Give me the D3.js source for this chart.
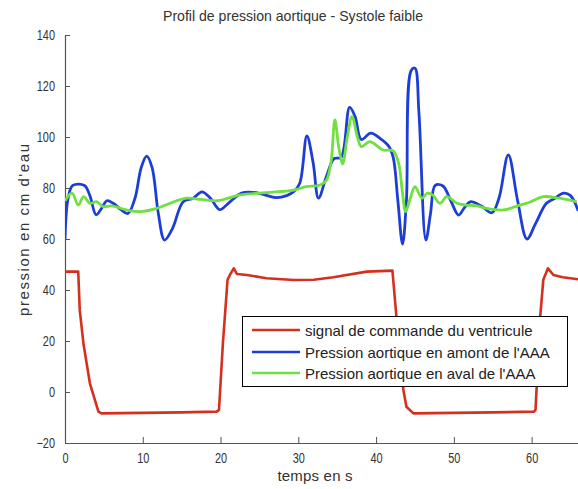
<!DOCTYPE html>
<html><head><meta charset="utf-8">
<script src="https://cdn.jsdelivr.net/npm/d3@7/dist/d3.min.js"></script>
<style>
html,body{margin:0;padding:0;background:#fff;}
svg{display:block;font-family:"Liberation Sans",Arial,sans-serif;}
</style></head>
<body><svg id="c" width="578" height="489"></svg>
<script>
const title = "Profil de pression aortique - Systole faible";
const xLabel = "temps en s";
const yLabel = "pression en cm d'eau";
const xTicks = [0,10,20,30,40,50,60];
const yTicks = [-20,0,20,40,60,80,100,120,140];
const seriesNames = ["signal de commande du ventricule","Pression aortique en amont de l'AAA","Pression aortique en aval de l'AAA"];

const redT = [0,1.7,1.9,2.4,3.2,4.3,4.7,10,15,19.5,19.8,20.3,20.9,21.2,21.7,22.1,23.4,25.9,29.4,32,34.5,38.8,42.1,42.6,43.5,43.9,44.8,50,55,60.3,60.5,61.1,61.5,62.1,62.8,64,66];
const redV = [47.2,47.2,32,18.4,3.4,-7.7,-8.4,-8.2,-8,-7.7,-7,19,44,45.9,48.5,46.3,45.9,44.6,43.9,44,45,47.2,47.6,30,1,-5.8,-8.4,-8.2,-8,-7.7,-7,29.5,44,48.5,45.9,45,44.2];

const blueT = [0,0.4,1.0,2.5,3.2,4.0,4.7,5.4,6.2,7.2,8.1,9.0,9.8,10.5,11.2,12.0,12.8,13.8,15.2,16.5,17.6,18.7,19.9,21.0,22.7,24.6,26.0,27.2,28.5,29.4,30.2,31.1,31.9,32.6,33.6,34.6,35.5,36.6,37.3,38.1,39.3,40.5,41.6,42.2,42.8,43.4,43.9,44.5,45.0,45.5,46.4,47.0,47.6,48.6,49.6,50.6,51.3,52.1,53.5,54.9,55.8,57.0,58.2,59.4,60.5,61.9,63.0,64.1,65.0,66.0];
const blueV = [60,76,81,81,77,69.5,72,75,74,71.5,70,76,88,92.5,88,70,59.6,64,74.6,76,78.5,76,71.5,74,78,78.2,77,76.2,77,78.5,82,100.4,90,76,84.4,91.5,92,111.6,108,99,101.5,99.5,96.5,92,75,58,75,126,127,110,59.6,70,81,80.8,75,69.4,72,74.6,73,70.3,76,93,75,60,66,74,76,78,77,71];

const greenT = [0,0.9,1.7,2.4,3.2,4.1,4.9,6.0,7.9,9.6,11.8,13.5,15.6,17.5,19.5,21.0,22.5,25.9,29.4,31.0,32.8,33.6,34.2,34.7,35.2,35.7,36.3,36.9,37.6,38.1,39.2,40.9,42.2,42.9,43.4,43.8,44.4,45.0,45.9,46.6,47.3,48.2,49.1,50.4,51.6,53.0,54.2,56.4,58.1,59.8,61.5,63.5,65.8];
const greenV = [75,78,73.3,76.6,74,74.6,72.7,73,71.4,70.7,72,74,76,75.5,75,76,77.3,78.2,79.2,80.5,81.2,83,90,106.7,96,89.5,100,108,100,96.2,98.2,94.9,94.6,89.7,78,70.7,76,80.5,76,78,77.2,74,76.6,74,73.3,73,72,71.4,72.9,74.5,76.6,76,74.6];

const colors = ["#d4301f","#1c3ed6","#6fe040"];

const svg = d3.select("#c");
const x = d3.scaleLinear().domain([0,66]).range([65,578.3]);
const y = d3.scaleLinear().domain([-20,140]).range([443,35]);

function squeeze(sel, w, mode){
  sel.attr("textLength", w).attr("lengthAdjust", mode||"spacingAndGlyphs");
}

// axes
const axisCol = "#555";
const gx = svg.append("g").attr("transform","translate(0,443)")
  .call(d3.axisBottom(x).tickValues(xTicks).tickSize(-6).tickPadding(10).tickFormat(d3.format("d")));
const gy = svg.append("g").attr("transform","translate(65,0)")
  .call(d3.axisLeft(y).tickValues(yTicks).tickSize(-5).tickPadding(10).tickFormat(d3.format("d")));
[gx,gy].forEach(g=>{
  g.select(".domain").attr("stroke",axisCol).attr("stroke-width",1.2);
  g.selectAll(".tick line").attr("stroke",axisCol);
  g.selectAll(".tick text").attr("fill","#333").attr("font-size",14)
   .attr("font-family","'Liberation Sans',Arial,sans-serif");
});
gx.select(".domain").attr("d","M65.5,0.5H578");
gy.select(".domain").attr("d","M0.5,443V35");
gx.selectAll(".tick text").each(function(){const w=this.getComputedTextLength(); d3.select(this).attr("textLength",w*0.78).attr("lengthAdjust","spacingAndGlyphs");});
gy.selectAll(".tick text").each(function(){const w=this.getComputedTextLength(); d3.select(this).attr("textLength",w*0.78).attr("lengthAdjust","spacingAndGlyphs");});

// lines
const mk = (T,V)=>T.map((t,i)=>[t,V[i]]);
const lineLin = d3.line().x(d=>x(d[0])).y(d=>y(d[1]));
const lineSm = d3.line().x(d=>x(d[0])).y(d=>y(d[1])).curve(d3.curveCatmullRom.alpha(0.5));
svg.append("defs").append("clipPath").attr("id","clip").append("rect").attr("x",65).attr("y",0).attr("width",520).attr("height",443);
const pl = svg.append("g").attr("clip-path","url(#clip)");
pl.append("path").attr("d",lineLin(mk(redT,redV))).attr("fill","none").attr("stroke",colors[0]).attr("stroke-width",2.6).attr("stroke-linejoin","round");
pl.append("path").attr("d",lineSm(mk(blueT,blueV))).attr("fill","none").attr("stroke",colors[1]).attr("stroke-width",2.8).attr("stroke-linejoin","round");
pl.append("path").attr("d",lineSm(mk(greenT,greenV))).attr("fill","none").attr("stroke",colors[2]).attr("stroke-width",2.8).attr("stroke-linejoin","round");

// legend
const lg = svg.append("g");
lg.append("rect").attr("x",242.5).attr("y",316.5).attr("width",325).attr("height",70).attr("fill","#fff").attr("stroke","#000").attr("stroke-width",1);
const rows = [330,352,373];
seriesNames.forEach((n,i)=>{
  lg.append("line").attr("x1",252).attr("x2",300).attr("y1",rows[i]).attr("y2",rows[i]).attr("stroke",colors[i]).attr("stroke-width",2.6);
  lg.append("text").attr("x",305).attr("y",rows[i]+5.5).attr("font-size",15).attr("fill","#222").text(n);
});

// titles
svg.append("text").attr("x",293).attr("y",21).attr("text-anchor","middle").attr("font-size",15).attr("fill","#333").text(title).call(squeeze,260);
svg.append("text").attr("x",315).attr("y",481).attr("text-anchor","middle").attr("font-size",15).attr("fill","#333").text(xLabel).call(squeeze,75,"spacing");
svg.append("text").attr("transform","translate(29,230) rotate(-90)").attr("text-anchor","middle").attr("font-size",15).attr("fill","#333").text(yLabel).call(squeeze,172,"spacing");
</script></body></html>
